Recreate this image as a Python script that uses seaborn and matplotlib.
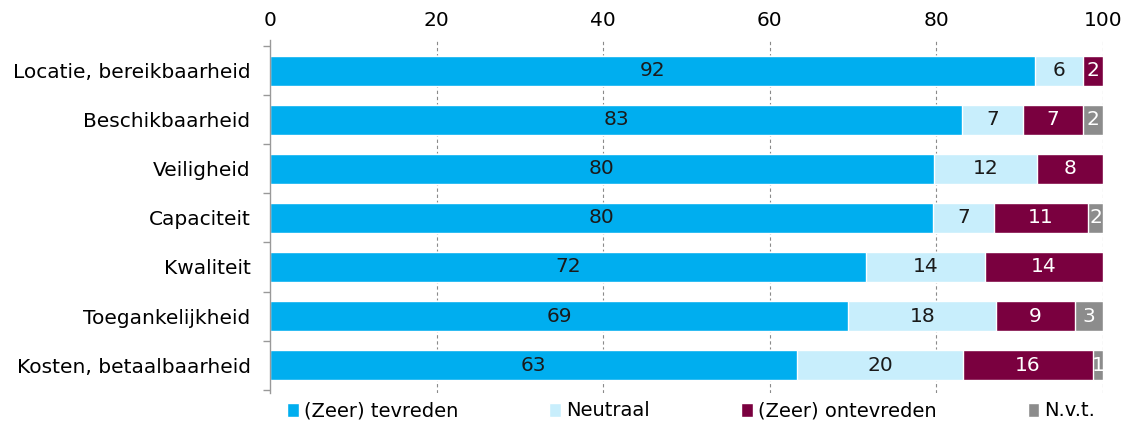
import numpy as np
import pandas as pd
import matplotlib
matplotlib.use("Agg")
import matplotlib.pyplot as plt
from matplotlib.patches import Patch
import seaborn as sns

categories = ["Locatie, bereikbaarheid", "Beschikbaarheid", "Veiligheid", "Capaciteit",
              "Kwaliteit", "Toegankelijkheid", "Kosten, betaalbaarheid"]
tevreden = [91.8, 83.1, 79.7, 79.6, 71.6, 69.4, 63.3]
neutraal = [5.8, 7.3, 12.4, 7.3, 14.2, 17.8, 19.9]
ontevreden = [2.4, 7.2, 7.9, 11.3, 14.2, 9.4, 15.6]
nvt = [0.0, 2.4, 0.0, 1.8, 0.0, 3.4, 1.2]

series_names = ["(Zeer) tevreden", "Neutraal", "(Zeer) ontevreden", "N.v.t."]
colors = ["#00aeef", "#c8eefc", "#7a003f", "#8c8c8c"]
text_colors = ["#1a1a1a", "#1a1a1a", "white", "white"]

sns.set_theme(style="white")
plt.rcParams["font.family"] = ["DejaVu Sans"]
plt.rcParams["text.color"] = "black"
plt.rcParams["xtick.color"] = "black"
plt.rcParams["ytick.color"] = "black"

df = pd.DataFrame({"cat": categories, "s0": tevreden, "s1": neutraal,
                   "s2": ontevreden, "s3": nvt})
cols = ["s0", "s1", "s2", "s3"]
cum = df[cols].cumsum(axis=1)

fig = plt.figure(figsize=(11.26, 4.3), dpi=100)
ax = fig.add_axes([270 / 1126, 1 - 393 / 430, 833 / 1126, 353 / 430])

# stacked bars: draw cumulative totals from the back to the front
for i in range(3, -1, -1):
    sns.barplot(x=cum[cols[i]], y=df["cat"], orient="h", color=colors[i],
                saturation=1, width=0.6, ax=ax, zorder=2)

# value labels
for i, c in enumerate(cols):
    for j, v in enumerate(df[c]):
        if v <= 0:
            continue
        ax.text(cum[c][j] - v / 2, j, f"{v:.0f}", ha="center", va="center",
                color=text_colors[i], fontsize=14.5, zorder=3)

ax.set_xlim(0, 100)
ax.set_ylim(6.57, -0.63)
ax.xaxis.tick_top()
ax.set_xticks([0, 20, 40, 60, 80, 100])
ax.tick_params(axis="x", length=0, pad=7, labelsize=14.5, labelcolor="black")
ax.tick_params(axis="y", which="major", length=0, pad=14, labelsize=14.5, labelcolor="black")
ax.set_yticks(np.arange(-0.5, 7, 1), minor=True)
ax.tick_params(axis="y", which="minor", length=5, color="#999999", width=1, left=True)
ax.set_xlabel("")
ax.set_ylabel("")
for xv in [20, 40, 60, 80, 100]:
    ax.axvline(xv, color="#8a8a8a", linestyle=(0, (3, 2.5)), linewidth=0.8, zorder=0)
for s in ["top", "right", "bottom"]:
    ax.spines[s].set_visible(False)
ax.spines["left"].set_color("#999999")
ax.spines["left"].set_linewidth(1)

handles = [Patch(facecolor=colors[i], label=series_names[i]) for i in range(4)]
fig.legend(handles=handles, loc="center", bbox_to_anchor=(691 / 1126, 1 - 411 / 430),
           ncol=4, frameon=False, fontsize=14, handlelength=0.6, handleheight=0.75,
           handletextpad=0.25, columnspacing=4.7, labelcolor="black")

fig.savefig("out.png", dpi=100)
